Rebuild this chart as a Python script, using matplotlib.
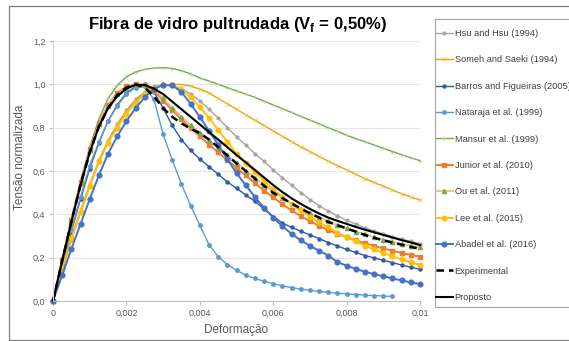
import matplotlib
matplotlib.use("Agg")
import matplotlib.pyplot as plt
from matplotlib.patches import Rectangle
import numpy as np

plt.rcParams['font.family'] = ['Liberation Sans', 'DejaVu Sans']
plt.rcParams['mathtext.fontset'] = 'custom'
plt.rcParams['mathtext.bf'] = 'Liberation Sans:bold'
plt.rcParams['mathtext.rm'] = 'Liberation Sans:bold'

# strain grid (step 0.00025)
strain = [i * 0.00025 for i in range(41)]

hsu = [0, .14, .28, .41, .53, .64, .735, .815, .88, .93, .965, .99, 1.0, .995, .98, .955, .925, .885, .845, .80,
       .758, .72, .68, .645, .605, .568, .535, .50, .468, .44, .415, .393, .372, .355, .338, .323, .31, .297, .285, .275, .265]
somesh = [0, .15, .29, .42, .54, .65, .74, .815, .875, .925, .96, .985, .997, 1.0, .999, .992, .978, .96, .935, .91,
          .885, .86, .835, .81, .785, .76, .735, .712, .69, .667, .645, .625, .605, .585, .565, .547, .53, .512, .495, .48, .466]
barros = [0, .16, .32, .47, .61, .73, .83, .905, .96, .99, 1.0, .965, .89, .81, .745, .695, .655, .62, .585, .55,
          .52, .49, .46, .425, .39, .36, .34, .322, .305, .288, .27, .254, .238, .224, .21, .199, .188, .177, .166, .156, .146]
nataraja = [0, .165, .33, .48, .625, .735, .83, .90, .955, .985, .99, .93, .77, .65, .54, .44, .35, .26, .205, .168,
            .142, .12, .104, .091, .08, .07, .062, .055, .049, .044, .04, .036, .033, .03, .027, .025, .023, .021]
mansur = [0, .19, .375, .55, .71, .84, .935, .995, 1.035, 1.057, 1.069, 1.075, 1.077, 1.073, 1.063, 1.048, 1.03, 1.015, 1.0, .985,
          .97, .955, .94, .922, .905, .888, .87, .852, .835, .818, .80, .783, .765, .75, .735, .72, .705, .69, .675, .661, .648]
junior = [0, .19, .375, .55, .70, .82, .905, .96, .99, 1.0, .995, .97, .925, .88, .838, .798, .76, .722, .686, .65,
          .615, .58, .545, .51, .478, .447, .418, .392, .368, .347, .327, .31, .295, .28, .266, .254, .243, .232, .222, .213, .204]
ou = [0, .19, .37, .545, .695, .815, .90, .955, .985, .998, .998, .978, .935, .89, .85, .812, .777, .742, .707, .672,
      .637, .602, .568, .536, .505, .476, .45, .426, .405, .385, .367, .35, .335, .32, .307, .295, .283, .272, .263, .255, .248]
lee = [0, .15, .29, .41, .53, .645, .73, .80, .865, .915, .955, .985, .998, .995, .975, .94, .895, .845, .79, .735,
       .68, .635, .595, .555, .515, .48, .447, .418, .39, .363, .34, .316, .295, .275, .255, .238, .222, .206, .192, .179, .166]
abadel = [0, .12, .24, .355, .47, .58, .68, .76, .83, .89, .94, .978, .997, .995, .965, .91, .85, .785, .722, .655,
          .59, .535, .48, .43, .385, .345, .31, .28, .255, .232, .21, .18, .163, .148, .135, .124, .114, .104, .095, .086, .078]
experimental = [0, .185, .365, .535, .685, .805, .89, .95, .985, 1.0, .985, .945, .89, .85, .82, .795, .775, .745, .71, .672,
                .635, .6, .565, .532, .5, .475, .45, .427, .405, .385, .365, .35, .335, .32, .305, .292, .28, .27, .26, .25, .24]
proposto = [0, .185, .365, .535, .685, .805, .89, .945, .98, .998, .997, .98, .955, .92, .885, .85, .815, .78, .745, .71,
            .674, .64, .605, .57, .535, .503, .474, .448, .425, .404, .385, .37, .356, .342, .329, .317, .305, .293, .281, .27, .258]

labels = ["Hsu and Hsu (1994)", "Someh and Saeki (1994)", "Barros and Figueiras (2005)", "Nataraja et al. (1999)",
          "Mansur et al. (1999)", "Junior et al. (2010)", "Ou et al. (2011)", "Lee et al. (2015)",
          "Abadel et al. (2016)", "Experimental", "Proposto"]
xticks = [0, 0.002, 0.004, 0.006, 0.008, 0.01]
xticklabels = ["0", "0,002", "0,004", "0,006", "0,008", "0,01"]
yticks = [0, 0.2, 0.4, 0.6, 0.8, 1.0, 1.2]
yticklabels = ["0,0", "0,2", "0,4", "0,6", "0,8", "1,0", "1,2"]

W, H = 569, 341
fig = plt.figure(figsize=(W / 100, H / 100), dpi=100)
ax = fig.add_axes([53 / W, 1 - 301 / H, (420 - 53) / W, (301 - 41) / H])

styles = [
    (hsu, dict(color='#A5A5A5', lw=1.0, marker='o', ms=2.0, mfc='#A5A5A5', mec='#A5A5A5')),
    (somesh, dict(color='#DDA615', lw=1.0, marker='x', ms=2.3, mew=0.6, mfc='#F2C84B', mec='#F2C84B')),
    (barros, dict(color='#2F5BA8', lw=1.0, marker='o', ms=2.2, mfc='#2F5BA8', mec='#2F5BA8')),
    (nataraja, dict(color='#5B9BD5', lw=1.0, marker='o', ms=2.5, mfc='#5B9BD5', mec='#5B9BD5')),
    (mansur, dict(color='#70AD47', lw=1.0, marker='+', ms=2.3, mew=0.5, mfc='#A9D18E', mec='#A9D18E')),
    (junior, dict(color='#ED7D31', lw=1.4, marker='s', ms=2.9, mfc='#ED7D31', mec='#ED7D31')),
    (ou, dict(color='#F4B183', lw=1.2, marker='^', ms=3.0, mfc='#70AD47', mec='#70AD47')),
    (lee, dict(color='#FFC000', lw=1.3, marker='o', ms=3.3, mfc='#FFC000', mec='#FFC000')),
    (abadel, dict(color='#4472C4', lw=1.4, marker='o', ms=3.4, mfc='#4472C4', mec='#4472C4')),
    (experimental, dict(color='black', lw=1.8, ls=(0, (3, 2)))),
    (proposto, dict(color='black', lw=1.5)),
]

handles = []
for (vals, st), lab in zip(styles, labels):
    x = strain[:len(vals)]
    h, = ax.plot(x, vals, label=lab, clip_on=False, **st)
    handles.append(h)

ax.set_xlim(0, 0.01)
ax.set_ylim(0, 1.2)
ax.set_xticks(xticks)
ax.set_xticklabels(xticklabels)
ax.set_yticks(yticks)
ax.set_yticklabels(yticklabels)
ax.tick_params(axis='both', labelsize=6.5, labelcolor='#595959', color='#BFBFBF', length=3, width=0.8, pad=2.5)
for s in ['top', 'right']:
    ax.spines[s].set_visible(False)
ax.spines['bottom'].set_color('#BFBFBF')
ax.spines['left'].set_color('#D9D9D9')
ax.grid(axis='y', color='#E6E6E6', lw=0.8)
ax.set_axisbelow(True)

fig.text(237.5 / W, 1 - 28.5 / H, r'Fibra de vidro pultrudada (V$_\mathbf{f}$ = 0,50%)',
         ha='center', va='baseline', fontsize=12, fontweight='bold', color='black')
fig.text(236.5 / W, 1 - 330 / H, 'Deformação', ha='center', va='center', fontsize=8.5, color='#595959')
fig.text(20.5 / W, 1 - 157.5 / H, 'Tensão normalizada', ha='center', va='center', rotation=90,
         fontsize=8.5, color='#595959')

# outer chart border
fig.add_artist(Rectangle((9 / W, 1 - 339.5 / H), (620 - 9) / W, (339.5 - 6) / H, transform=fig.transFigure,
                         fill=False, edgecolor='#7F7F7F', lw=0.9, clip_on=False))
# legend frame
fig.add_artist(Rectangle((435 / W, 1 - 307 / H), (620 - 435) / W, (307 - 19) / H, transform=fig.transFigure,
                         fill=False, edgecolor='#A6A6A6', lw=0.8, clip_on=False))

leg = fig.legend(handles, labels, loc='upper left', bbox_to_anchor=(436 / W, 1 - 29 / H), frameon=False,
                 fontsize=6.7, handlelength=1.8, handletextpad=0.2, labelspacing=1.87, borderpad=0,
                 borderaxespad=0)
for t in leg.get_texts():
    t.set_color('#404040')

fig.savefig('out.png', dpi=100)
